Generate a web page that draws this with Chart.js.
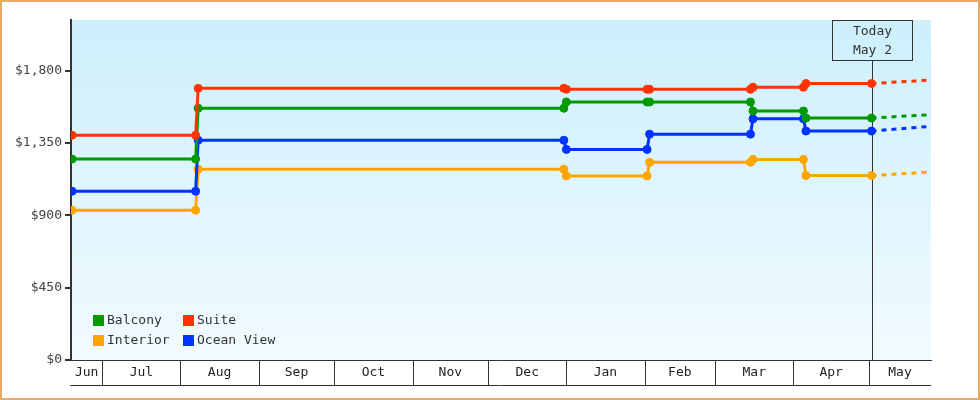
<!DOCTYPE html>
<html>
<head>
<meta charset="utf-8">
<script src="https://cdn.jsdelivr.net/npm/chart.js@4.4.1/dist/chart.umd.min.js"></script>
<style>
html, body { margin: 0; padding: 0; background: #fff; }
</style>
</head>
<body>
<canvas id="priceChart" width="980" height="400"></canvas>
<script>
// price change dates (old price day, new price day)
var dates = ['2022-06-19', '2022-08-07', '2022-08-08', '2022-12-31', '2023-01-01', '2023-02-02',
             '2023-02-03', '2023-03-15', '2023-03-16', '2023-04-05', '2023-04-06', '2023-05-02'];
var balcony   = [1250, 1250, 1566, 1566, 1605, 1605, 1605, 1605, 1549, 1549, 1505, 1505];
var suite     = [1398, 1398, 1690, 1690, 1684, 1684, 1684, 1684, 1697, 1697, 1720, 1720];
var interior  = [932, 932, 1187, 1187, 1145, 1145, 1230, 1230, 1248, 1248, 1147, 1147];
var oceanView = [1050, 1050, 1367, 1367, 1310, 1310, 1405, 1405, 1500, 1500, 1424, 1424];

// projection after today
var projDates = ['2023-05-02', '2023-05-24'];
var balconyProj   = [1505, 1525];
var suiteProj     = [1720, 1740];
var interiorProj  = [1147, 1168];
var oceanViewProj = [1424, 1452];

var todayDate = '2023-05-02';
var todayText = ['Today', 'May 2'];
var axisStart = '2022-06-18T14:00:00Z';
var axisEnd = '2023-05-25T14:00:00Z';
var yTicks = [0, 450, 900, 1350, 1800];
var yMax = 2115;
var months = ['Jun', 'Jul', 'Aug', 'Sep', 'Oct', 'Nov', 'Dec', 'Jan', 'Feb', 'Mar', 'Apr', 'May'];
var monthStarts = ['2022-06-01', '2022-07-01', '2022-08-01', '2022-09-01', '2022-10-01', '2022-11-01',
                   '2022-12-01', '2023-01-01', '2023-02-01', '2023-03-01', '2023-04-01', '2023-05-01', '2023-06-01'];

var colors = { balcony: '#009900', suite: '#ff3300', interior: '#ffa500', ocean: '#0033ff' };
var FONT = 'DejaVu Sans Mono';

function day(s) {
  if (s.length == 10) s = s + 'T00:00:00Z';
  return Date.parse(s) / 86400000;
}
function pts(ds, vals) {
  return ds.map(function (d, i) { return { x: day(d), y: vals[i] }; });
}
function mainSet(label, vals, color, order) {
  return {
    label: label, data: pts(dates, vals), borderColor: color, backgroundColor: color,
    borderWidth: 3, pointRadius: 4, pointBorderWidth: 1, pointBackgroundColor: color,
    pointBorderColor: color, tension: 0, order: order
  };
}
function projSet(vals, color) {
  return {
    label: '', data: pts(projDates, vals), borderColor: color, borderWidth: 3,
    borderDash: [5, 5], pointRadius: 0, tension: 0, order: 10
  };
}

var legendItems = [
  { text: 'Balcony', color: colors.balcony, x: 93, y: 315 },
  { text: 'Suite', color: colors.suite, x: 183, y: 315 },
  { text: 'Interior', color: colors.interior, x: 93, y: 335 },
  { text: 'Ocean View', color: colors.ocean, x: 183, y: 335 }
];

var decor = {
  id: 'decor',
  beforeDraw: function (chart) {
    var c = chart.ctx, a = chart.chartArea;
    c.save();
    c.fillStyle = '#fff';
    c.fillRect(0, 0, chart.width, chart.height);
    var g = c.createLinearGradient(0, a.top, 0, a.bottom);
    g.addColorStop(0, 'rgb(204,239,252)');
    g.addColorStop(1, 'rgb(242,251,255)');
    c.fillStyle = g;
    c.fillRect(a.left, a.top, a.right - a.left, a.bottom - a.top);
    c.restore();
  },
  beforeDatasetsDraw: function (chart) {
    var c = chart.ctx, a = chart.chartArea, xs = chart.scales.x;
    var tx = Math.round(xs.getPixelForValue(day(todayDate))) + 0.5;
    c.save();
    c.strokeStyle = '#333';
    c.lineWidth = 1;
    c.beginPath();
    c.moveTo(tx, 60);
    c.lineTo(tx, a.bottom);
    c.stroke();
    c.strokeRect(tx - 40, a.top + 0.5, 80, 40);
    c.fillStyle = '#333';
    c.font = '13px "' + FONT + '"';
    c.textAlign = 'center';
    c.textBaseline = 'middle';
    c.fillText(todayText[0], tx, 32);
    c.fillText(todayText[1], tx, 51);
    c.restore();
  },
  afterDraw: function (chart) {
    var c = chart.ctx, a = chart.chartArea, xs = chart.scales.x;
    var lo = day(axisStart), hi = day(axisEnd);
    c.save();
    c.strokeStyle = '#333';
    c.lineWidth = 1;
    c.fillStyle = '#222';
    c.font = '13px "' + FONT + '"';
    c.textAlign = 'center';
    c.textBaseline = 'middle';
    for (var i = 0; i < months.length; i++) {
      var s = Math.max(lo, day(monthStarts[i])), e = Math.min(hi, day(monthStarts[i + 1]));
      var x0 = xs.getPixelForValue(s), x1 = xs.getPixelForValue(e);
      c.fillText(months[i], (x0 + x1) / 2, a.bottom + 13);
      if (day(monthStarts[i]) > lo) {
        var bx = Math.round(x0) + 0.5;
        c.beginPath();
        c.moveTo(bx, a.bottom);
        c.lineTo(bx, a.bottom + 25);
        c.stroke();
      }
    }
    c.beginPath();
    c.moveTo(a.left - 1, a.bottom + 25.5);
    c.lineTo(a.right, a.bottom + 25.5);
    c.stroke();

    // legend
    c.textAlign = 'left';
    legendItems.forEach(function (it) {
      c.fillStyle = it.color;
      c.fillRect(it.x, it.y, 11, 11);
      c.fillStyle = '#333';
      c.fillText(it.text, it.x + 14, it.y + 6);
    });

    // outer frame
    c.strokeStyle = '#e8aa66';
    c.lineWidth = 2;
    c.strokeRect(1, 1, chart.width - 2, chart.height - 2);
    c.restore();
  }
};

var ctx = document.getElementById('priceChart').getContext('2d');
var chart = new Chart(ctx, {
  type: 'line',
  data: {
    datasets: [
      mainSet('Suite', suite, colors.suite, 1),
      mainSet('Balcony', balcony, colors.balcony, 2),
      mainSet('Ocean View', oceanView, colors.ocean, 3),
      mainSet('Interior', interior, colors.interior, 4),
      projSet(suiteProj, colors.suite),
      projSet(balconyProj, colors.balcony),
      projSet(oceanViewProj, colors.ocean),
      projSet(interiorProj, colors.interior)
    ]
  },
  options: {
    responsive: false,
    animation: false,
    layout: { padding: { top: 20, right: 49, bottom: 40, left: 0 } },
    plugins: { legend: { display: false }, tooltip: { enabled: false } },
    scales: {
      x: {
        type: 'linear', min: day(axisStart), max: day(axisEnd),
        ticks: { display: false },
        grid: { display: false, drawTicks: false },
        border: { display: true, color: '#333', width: 1 }
      },
      y: {
        min: 0, max: yMax,
        afterBuildTicks: function (s) { s.ticks = yTicks.map(function (v) { return { value: v }; }); },
        afterFit: function (s) { s.width = 71; },
        ticks: {
          color: '#444', padding: 3, font: { family: FONT, size: 13 },
          callback: function (v) { return '$' + Number(v).toLocaleString('en-US'); }
        },
        grid: { drawOnChartArea: false, color: '#333', tickLength: 6, lineWidth: 2 },
        border: { color: '#333', width: 2 }
      }
    }
  },
  plugins: [decor]
});
</script>
</body>
</html>
